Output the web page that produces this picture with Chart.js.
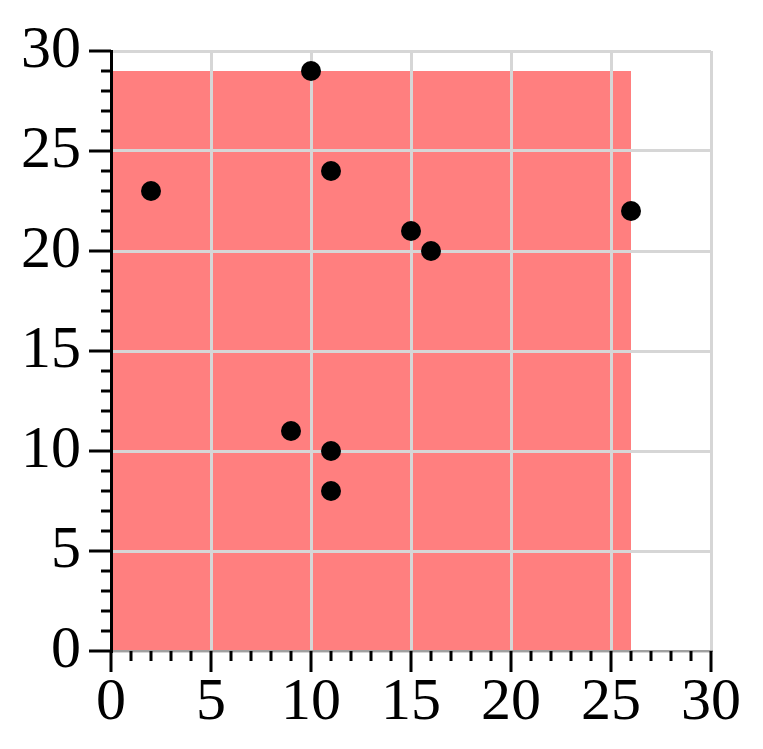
<!DOCTYPE html>
<html>
<head>
<meta charset="utf-8">
<script src="https://cdn.jsdelivr.net/npm/chart.js@4"></script>
<style>
  html,body{margin:0;padding:0;background:#fff;}
  #wrap{width:763px;height:749px;}
</style>
</head>
<body>
<div id="wrap"><canvas id="c" width="763" height="749"></canvas></div>
<script>
/* datos */
const xs = [2, 10, 11, 15, 16, 26, 9, 11, 11];
const ys = [23, 29, 24, 21, 20, 22, 11, 10, 8];
const axisMin = 0, axisMax = 30, majorStep = 5;

const FONT = {family:'Liberation Serif', size:60};
const GRID = '#d6d6d6';

/* rectángulo rojo desde el origen hasta el máximo de los puntos */
const rectPlugin = {
  id:'rect',
  beforeDraw(ch){
    const {ctx, scales:{x,y}} = ch;
    const x0 = x.getPixelForValue(0), x1 = x.getPixelForValue(Math.max(...xs));
    const y0 = y.getPixelForValue(0), y1 = y.getPixelForValue(Math.max(...ys));
    ctx.save();
    ctx.fillStyle = 'rgba(255,0,0,0.5)';
    ctx.fillRect(x0, y1, x1-x0, y0-y1);
    ctx.restore();
  }
};

/* ticks mayores y menores */
const ticksPlugin = {
  id:'ticks',
  afterDraw(ch){
    const {ctx, chartArea:a, scales:{x,y}} = ch;
    ctx.save();
    ctx.strokeStyle = '#000'; ctx.lineWidth = 3;
    x.ticks.forEach(t=>{
      const px = x.getPixelForValue(t.value);
      const len = t.value % majorStep === 0 ? 21 : 10;
      ctx.beginPath(); ctx.moveTo(px, a.bottom); ctx.lineTo(px, a.bottom+len); ctx.stroke();
    });
    y.ticks.forEach(t=>{
      const py = y.getPixelForValue(t.value);
      const len = t.value % majorStep === 0 ? 22 : 10;
      ctx.beginPath(); ctx.moveTo(a.left, py); ctx.lineTo(a.left-len, py); ctx.stroke();
    });
    ctx.restore();
  }
};

function axis(isX){
  return {
    type:'linear', min:axisMin, max:axisMax,
    afterFit: s => { if(isX) s.height = 98; else s.width = 111; },
    ticks:{
      stepSize:1, autoSkip:false, maxRotation:0, color:'#000', font:FONT,
      padding: isX ? -5 : 8,
      callback: v => v % majorStep === 0 ? v : ''
    },
    grid:{
      color: c => (c.tick && c.tick.value % majorStep === 0) ? GRID : 'rgba(0,0,0,0)',
      lineWidth:3, drawTicks:true, tickLength: isX ? 21 : 22, tickColor:'rgba(0,0,0,0)'
    },
    border: isX ? {color:'#a0a0a0', width:2} : {color:'#000', width:3}
  };
}

function draw(){
  new Chart('c',{
    type:'scatter',
    data:{datasets:[{
      data: xs.map((v,i)=>({x:v, y:ys[i]})),
      backgroundColor:'#000', borderWidth:0, pointRadius:10, pointHoverRadius:10
    }]},
    options:{
      responsive:false, animation:false,
      layout:{padding:{top:51, right:52, left:0, bottom:0}},
      plugins:{legend:{display:false}, tooltip:{enabled:false}},
      scales:{x:axis(true), y:axis(false)}
    },
    plugins:[rectPlugin, ticksPlugin]
  });
}
document.fonts.load('60px "Liberation Serif"').then(draw, draw);
</script>
</body>
</html>
